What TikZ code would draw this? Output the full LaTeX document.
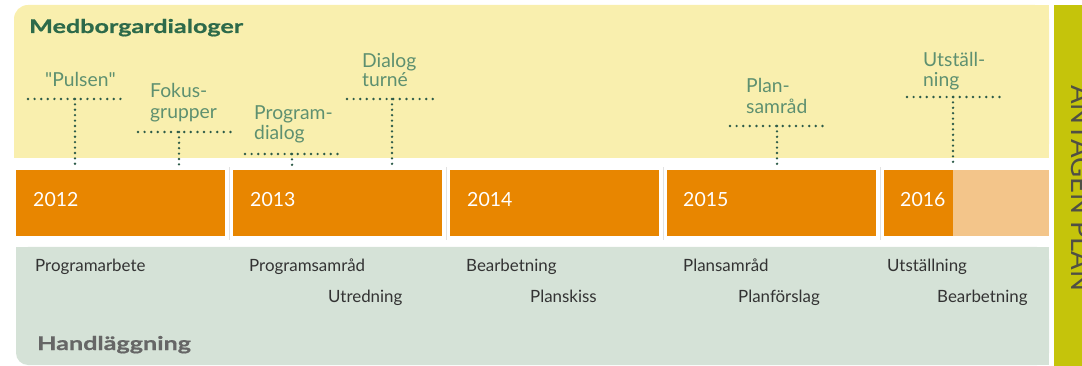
\documentclass[tikz,border=0pt]{standalone}
\usepackage{fontspec}
\setmainfont{Lato}
\newfontfamily\headfont{Lato}[FakeStretch=1.33, BoldFeatures={FakeBold=0.8}]
\newcommand{\sq}{\XeTeXglyph\XeTeXcharglyph"22\relax}
\definecolor{yellowbg}{HTML}{F9EFAE}
\definecolor{orangebox}{HTML}{E88600}
\definecolor{lightorange}{HTML}{F3C58A}
\definecolor{greenbg}{HTML}{D5E2D7}
\definecolor{olivebar}{HTML}{C5C40B}
\definecolor{headgreen}{HTML}{2D6A4A}
\definecolor{msgreen}{HTML}{5E9070}
\definecolor{dotgreen}{HTML}{2C5B48}
\definecolor{textgrey}{HTML}{333333}
\definecolor{headgrey}{HTML}{666666}
\definecolor{bartext}{HTML}{4F4F45}
\definecolor{sepgrey}{HTML}{E2E2E2}
\tikzset{
  yearbox/.style={fill=orangebox, draw=none},
  yeartext/.style={text=white, anchor=base west, inner sep=0pt, font=\fontsize{19.5}{20}\selectfont},
  mstext/.style={text=msgreen, anchor=base west, inner sep=0pt, font=\fontsize{19.3}{20}\selectfont},
  worktext/.style={text=textgrey, anchor=base west, inner sep=0pt, font=\fontsize{16.9}{18}\selectfont},
  headtext/.style={anchor=base west, inner sep=0pt, font=\headfont\bfseries\fontsize{18.9}{20}\selectfont},
  hdots/.style={dotgreen, line width=2.7pt, line cap=round, dash pattern=on 0pt off 6.6pt},
  vdots/.style={dotgreen, line width=2.6pt, line cap=round, dash pattern=on 0pt off 5.4pt},
  sepline/.style={sepgrey, line width=0.8pt}
}
\begin{document}
\begin{tikzpicture}[x=1pt,y=-1pt]
\useasboundingbox (0,0) rectangle (1082,366);
\begin{scope}
\clip (0,0) rectangle (1082,366);
% panels
\fill[yellowbg, rounded corners=14pt] (14,5) rectangle (1049,158);
\fill[yellowbg] (30,5) rectangle (1049,158);
\fill[yellowbg] (14,21) rectangle (1049,158);
\fill[greenbg, rounded corners=12pt] (16,247) rectangle (1049,365);
\fill[greenbg] (30,247) rectangle (1049,365);
\fill[greenbg] (16,247) rectangle (1049,351);
\fill[olivebar] (1054,5) rectangle (1082,366);
\node[rotate=-90, anchor=base west, inner sep=0pt, text=bartext, font=\fontsize{27.5}{28}\selectfont] (antagen) at (1071,85) {ANTAGEN PLAN};
% separators
\foreach \sx in {229,446,663,880} \draw[sepline] (\sx,167) -- (\sx,240);
% year boxes
\fill[yearbox] (16,170) rectangle (225,236);
\fill[yearbox] (233,170) rectangle (442,236);
\fill[yearbox] (450,170) rectangle (659,236);
\fill[yearbox] (667,170) rectangle (876,236);
\fill[lightorange] (953,170) rectangle (1049,236);
\fill[yearbox] (884,170) rectangle (953,236);
\node[yeartext] (y12) at (33,207) {2012};
\node[yeartext] (y13) at (250,207) {2013};
\node[yeartext] (y14) at (467,207) {2014};
\node[yeartext] (y15) at (683,207) {2015};
\node[yeartext] (y16) at (900,207) {2016};
% headings
\node[headtext, text=headgreen] (medb) at (29,33) {Medborgardialoger};
\node[headtext, text=headgrey] (handl) at (37,350) {Handläggning};
% milestone labels
\node[mstext] (puls) at (45,87) {\sq Pulsen\sq};
\node[mstext] (fok1) at (150,98) {Fokus-};
\node[mstext] (fok2) at (150,119) {grupper};
\node[mstext] (prg1) at (254,120) {Program-};
\node[mstext] (prg2) at (254,140) {dialog};
\node[mstext] (dia1) at (362,68) {Dialog};
\node[mstext] (dia2) at (362,87) {turné};
\node[mstext] (pla1) at (746,93) {Plan-};
\node[mstext] (pla2) at (746,114) {samråd};
\node[mstext] (uts1) at (923,67) {Utställ-};
\node[mstext] (uts2) at (923,87) {ning};
% dotted connectors
\coordinate (pulsL) at (28,99); \coordinate (pulsR) at (122,99);
\coordinate (pulsT) at (75,99); \coordinate (pulsB) at (75,166);
\coordinate (fokL) at (138,132); \coordinate (fokR) at (231,132);
\coordinate (fokT) at (179,132); \coordinate (fokB) at (179,166);
\coordinate (prgL) at (245,154); \coordinate (prgR) at (338,154);
\coordinate (prgT) at (292,154); \coordinate (prgB) at (292,166);
\coordinate (diaL) at (347,99); \coordinate (diaR) at (439,99);
\coordinate (diaT) at (392,99); \coordinate (diaB) at (392,166);
\coordinate (plaL) at (730,126); \coordinate (plaR) at (823,126);
\coordinate (plaT) at (777,126); \coordinate (plaB) at (777,166);
\coordinate (utsL) at (907,97); \coordinate (utsR) at (1000,97);
\coordinate (utsT) at (953,97); \coordinate (utsB) at (953,165);
\foreach \m in {puls,fok,prg,dia,pla,uts} {
  \draw[hdots] (\m L) -- (\m R);
  \draw[vdots] (\m T) -- (\m B);
}
% work texts
\node[worktext] (w1) at (35,272) {Programarbete};
\node[worktext] (w2) at (249,272) {Programsamråd};
\node[worktext] (w3) at (328,302) {Utredning};
\node[worktext] (w4) at (466,272) {Bearbetning};
\node[worktext] (w5) at (530,302) {Planskiss};
\node[worktext] (w6) at (683,272) {Plansamråd};
\node[worktext] (w7) at (738,302) {Planförslag};
\node[worktext] (w8) at (887,272) {Utställning};
\node[worktext] (w9) at (937,302) {Bearbetning};
\end{scope}
\end{tikzpicture}
\end{document}
